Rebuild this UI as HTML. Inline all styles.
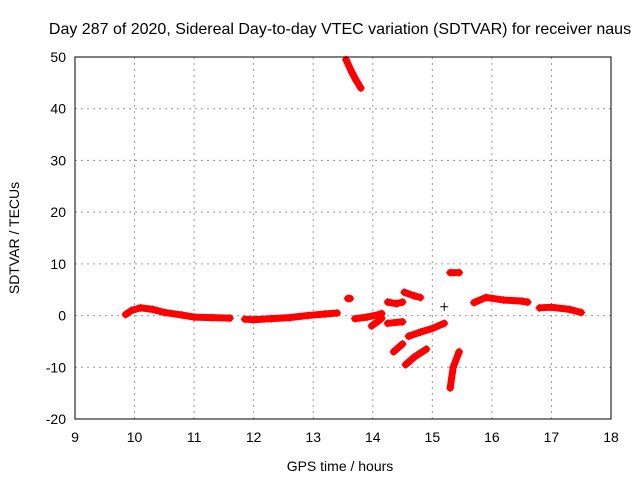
<!DOCTYPE html>
<html><head><meta charset="utf-8"><style>
body{margin:0;background:#fff}
svg{display:block;font-family:"Liberation Sans",sans-serif}
</style></head><body>
<svg id="c" width="640" height="480">
<text x="340" y="34" font-size="16" text-anchor="middle">Day 287 of 2020, Sidereal Day-to-day VTEC variation (SDTVAR) for receiver naus</text>
<text x="340" y="471" font-size="14" text-anchor="middle">GPS time / hours</text>
<text transform="translate(19,238) rotate(-90)" font-size="14" text-anchor="middle">SDTVAR / TECUs</text>
<g id="grid"></g><g id="marks"></g>
<rect x="75" y="57" width="536" height="362" fill="none" stroke="#000"/>
</svg>
<script>
const xTicks=[9,10,11,12,13,14,15,16,17,18];
const yTicks=[-20,-10,0,10,20,30,40,50];
const segments=[
[[9.85,0.2],[9.95,1.0],[10.1,1.5],[10.3,1.2],[10.5,0.6],[10.8,0.1],[11.0,-0.3],[11.3,-0.4],[11.6,-0.5]],
[[11.85,-0.7],[12.0,-0.8],[12.3,-0.6],[12.6,-0.4],[12.9,0.0],[13.2,0.3],[13.4,0.5]],
[[13.55,49.5],[13.65,47],[13.72,45.5],[13.8,44]],
[[13.58,3.3],[13.62,3.3]],
[[13.7,-0.6],[13.9,-0.3],[14.1,0.2],[14.15,0.4]],
[[13.98,-2],[14.1,-1.0],[14.15,-0.5]],
[[14.25,2.6],[14.4,2.3],[14.5,2.6]],
[[14.25,-1.5],[14.5,-1.2]],
[[14.53,4.5],[14.7,3.8],[14.8,3.5]],
[[14.6,-4],[14.8,-3.2],[15.0,-2.5],[15.2,-1.5]],
[[14.35,-7],[14.5,-5.5]],
[[14.55,-9.5],[14.7,-8],[14.9,-6.5]],
[[15.3,8.3],[15.45,8.3]],
[[15.3,-14],[15.35,-10],[15.45,-7]],
[[15.7,2.5],[15.9,3.5],[16.2,3.0],[16.5,2.8],[16.6,2.6]],
[[16.8,1.5],[17.0,1.6],[17.3,1.2],[17.5,0.6]]
];
const blackPoints=[[15.2,1.7]];
const X=h=>75+(h-9)*536/9, Y=v=>57+(50-v)*362/70;
const NS="http://www.w3.org/2000/svg";
const g=document.getElementById('grid'), m=document.getElementById('marks');
function mk(p,t,a){const e=document.createElementNS(NS,t);for(const k in a)e.setAttribute(k,a[k]);p.appendChild(e);return e;}
xTicks.forEach(t=>{const x=X(t);
 if(t>9&&t<18){const l=mk(g,'line',{x1:x,x2:x,y1:57,y2:419,stroke:'#999','stroke-dasharray':'2,4'});
 
 }
 const tx=mk(g,'text',{x:x,y:442,'font-size':14,'text-anchor':'middle'});tx.textContent=t;
 
 
});
yTicks.forEach(t=>{const y=Y(t);
 if(t>-20&&t<50){const l=mk(g,'line',{x1:75,x2:611,y1:y,y2:y,stroke:'#999','stroke-dasharray':'2,4'});
 
 }
 const tx=mk(g,'text',{x:66,y:y+5,'font-size':14,'text-anchor':'end'});tx.textContent=t;
 
 
});
function plus(p,x,y,c){mk(p,'path',{d:`M${x-4},${y}h8M${x},${y-4}v8`,stroke:c,'stroke-width':1});}
segments.forEach(s=>{const grp=mk(m,'g',{});
 
 
 if(s.length>1)mk(grp,'polyline',{points:s.map(p=>X(p[0])+','+Y(p[1])).join(' '),fill:'none',stroke:'#f00','stroke-width':7,'stroke-linecap':'round'});
 s.forEach(p=>plus(grp,X(p[0]),Y(p[1]),'#f00'));
});
blackPoints.forEach(p=>{const grp=mk(m,'g',{});
 
 
 plus(grp,X(p[0]),Y(p[1]),'#000');});
</script>
</body></html>
